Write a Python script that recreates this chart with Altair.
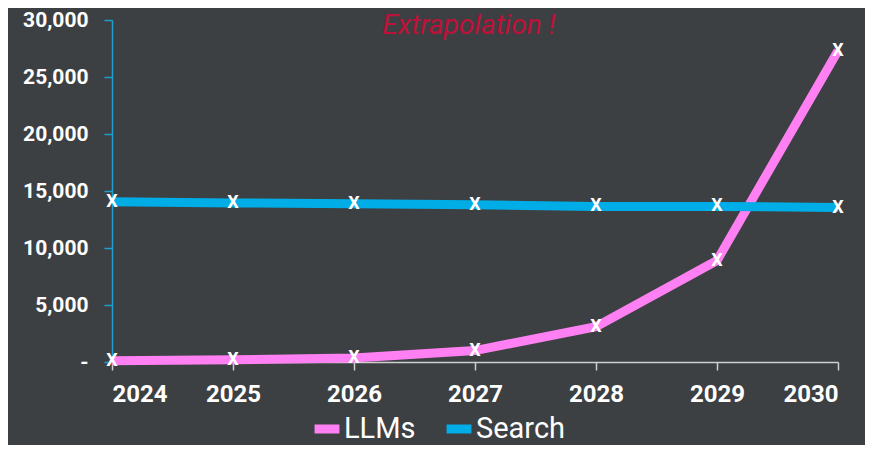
import altair as alt
import pandas as pd

years = [2024, 2025, 2026, 2027, 2028, 2029, 2030]
llms = [100, 200, 350, 1000, 3100, 8900, 27300]
search = [14050, 13950, 13880, 13800, 13650, 13650, 13550]
series_names = ["LLMs", "Search"]
colors = ["#ff80f2", "#00ade6"]
y_ticks = [0, 5000, 10000, 15000, 20000, 25000, 30000]
note = "Extrapolation !"

rows = []
for name, vals in zip(series_names, [llms, search]):
    for yr, v in zip(years, vals):
        rows.append({"year": yr, "value": v, "series": name})
df = pd.DataFrame(rows)

FONT = "Roboto"
BG = "#3d4043"

x_enc = alt.X("year:Q", scale=alt.Scale(domain=[2024, 2030], nice=False, zero=False),
              axis=alt.Axis(values=years, format="d", title=None, grid=False,
                            labelColor="white", labelFontSize=24, labelFontWeight="bold",
                            labelFont=FONT, labelPadding=12, domainColor="#cfcfcf",
                            tickColor="#cfcfcf", tickSize=8, domainWidth=1.5, tickWidth=1.5))
y_enc = alt.Y("value:Q", scale=alt.Scale(domain=[0, 30000], nice=False),
              axis=alt.Axis(values=y_ticks, title=None, grid=False,
                            labelExpr="datum.value == 0 ? '-' : format(datum.value, ',')",
                            labelColor="white", labelFontSize=21, labelFontWeight="bold",
                            labelFont=FONT, labelPadding=16, domainColor="#1a9fd0",
                            tickColor="#1a9fd0", tickSize=8, domainWidth=1.5, tickWidth=1.5))

color_enc = alt.Color("series:N", scale=alt.Scale(domain=series_names, range=colors),
                      legend=alt.Legend(title=None, orient="none", direction="horizontal",
                                        legendX=198, legendY=392,
                                        symbolType="stroke", symbolStrokeWidth=9,
                                        symbolSize=620, labelFontSize=29, labelFont=FONT,
                                        labelColor="white", labelOffset=0, columnPadding=12,
                                        symbolOffset=0, padding=0))

lines = alt.Chart(df).mark_line(strokeWidth=9, strokeCap="butt").encode(
    x=x_enc, y=y_enc, color=color_enc, detail="series:N")

marks = alt.Chart(df).mark_text(text="X", color="white", fontSize=18, fontWeight="bold",
                                font=FONT, baseline="middle", align="center").encode(
    x="year:Q", y="value:Q")

ann = alt.Chart(pd.DataFrame({"year": [2026.95], "value": [30000], "t": [note]})).mark_text(
    color="#c0103a", fontSize=28, fontStyle="italic", font=FONT, baseline="middle",
    align="center", dy=6).encode(x="year:Q", y="value:Q", text="t:N")

chart = (lines + marks + ann).properties(
    width=726, height=342, background=BG,
    autosize=alt.AutoSizeParams(type="none"),
    padding={"left": 104, "top": 12, "right": 27, "bottom": 83},
).configure_view(stroke=None)

chart.save("out.html", embed_options={"renderer": "svg", "actions": False})
